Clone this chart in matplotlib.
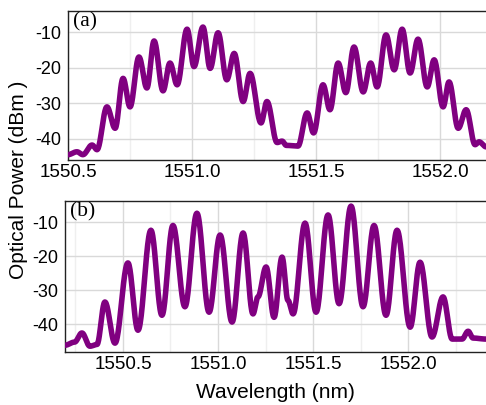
import numpy as np
import matplotlib.pyplot as plt
from matplotlib.ticker import MultipleLocator

# panel (a): turning points of the trace (wavelength nm, power dBm)
wl_a = [1550.500, 1550.536, 1550.560, 1550.597, 1550.617, 1550.657, 1550.690, 1550.722,
        1550.750, 1550.786, 1550.818, 1550.847, 1550.883, 1550.911, 1550.940, 1550.980,
        1551.008, 1551.044, 1551.073, 1551.105, 1551.140, 1551.170, 1551.206, 1551.234,
        1551.278, 1551.302, 1551.343, 1551.363, 1551.380, 1551.427, 1551.464, 1551.490,
        1551.528, 1551.556, 1551.589, 1551.620, 1551.653, 1551.690, 1551.720, 1551.746,
        1551.782, 1551.815, 1551.847, 1551.879, 1551.911, 1551.948, 1551.976, 1552.012,
        1552.036, 1552.073, 1552.105, 1552.141, 1552.157, 1552.185]
p_a = [-44.4, -43.6, -44.4, -41.7, -43.0, -31.0, -37.0, -23.0,
       -31.0, -17.0, -25.7, -12.5, -26.5, -18.7, -24.8, -9.2,
       -19.7, -8.6, -20.2, -10.2, -23.4, -16.0, -29.5, -21.6,
       -35.5, -29.5, -41.0, -40.6, -41.8, -42.0, -32.7, -38.3,
       -24.8, -31.8, -18.7, -27.0, -14.2, -26.8, -18.7, -25.4,
       -10.8, -20.6, -9.2, -21.5, -12.0, -25.4, -17.8, -31.0,
       -24.0, -37.0, -31.8, -41.6, -40.8, -42.2]

# panel (b)
wl_b = [1550.195, 1550.245, 1550.284, 1550.326, 1550.363, 1550.405, 1550.458, 1550.526,
        1550.579, 1550.647, 1550.705, 1550.763, 1550.826, 1550.889, 1550.953, 1551.011,
        1551.074, 1551.132, 1551.184, 1551.210, 1551.253, 1551.295, 1551.337, 1551.368,
        1551.395, 1551.458, 1551.516, 1551.579, 1551.637, 1551.700, 1551.763, 1551.821,
        1551.884, 1551.942, 1552.011, 1552.063, 1552.126, 1552.184, 1552.232, 1552.284,
        1552.316, 1552.342, 1552.410]
p_b = [-46.2, -45.3, -42.6, -46.5, -46.0, -33.5, -45.6, -22.0,
       -41.8, -12.4, -37.4, -11.0, -34.9, -7.4, -36.5, -13.8,
       -39.4, -13.2, -37.0, -32.0, -23.2, -38.0, -20.3, -33.0,
       -37.0, -10.3, -36.5, -7.9, -34.0, -5.3, -34.9, -11.0,
       -37.4, -12.4, -40.9, -21.8, -43.8, -32.0, -44.4, -44.4,
       -42.1, -44.1, -44.4]

yticks = [-40, -30, -20, -10]
xticks_a = [1550.5, 1551.0, 1551.5, 1552.0]
xticks_b = [1550.5, 1551.0, 1551.5, 1552.0]


def trace(xs, ys, n=24):
    # join the turning points with half-cosine segments so the peaks stay round
    t = np.linspace(0, 1, n, endpoint=False)
    s = (1 - np.cos(np.pi * t)) / 2
    xx, yy = [], []
    for i in range(len(xs) - 1):
        xx.append(xs[i] + (xs[i + 1] - xs[i]) * t)
        yy.append(ys[i] + (ys[i + 1] - ys[i]) * s)
    xx.append([xs[-1]])
    yy.append([ys[-1]])
    return np.concatenate(xx), np.concatenate(yy)


fig = plt.figure(figsize=(4.86, 4.05), dpi=100)
ax1 = fig.add_axes([68 / 486, 1 - 160 / 405, 1 - 68 / 486, 149 / 405])
ax2 = fig.add_axes([65 / 486, 1 - 352 / 405, 1 - 65 / 486, 151 / 405])

panels = [(ax1, wl_a, p_a, xticks_a, (1550.5, 1552.185), (-45.9, -4.1), '(a)'),
          (ax2, wl_b, p_b, xticks_b, (1550.195, 1552.41), (-48.2, -3.8), '(b)')]

for ax, wl, p, xt, xl, yl, tag in panels:
    x, y = trace(wl, p)
    ax.plot(x, y, color='#800080', lw=4.0, solid_capstyle='round',
            solid_joinstyle='round', zorder=3)
    ax.set_xlim(*xl)
    ax.set_ylim(*yl)
    ax.set_xticks(xt)
    ax.set_xticklabels([f'{v:.1f}' for v in xt])
    ax.set_yticks(yticks)
    ax.set_yticklabels([str(v) for v in yticks])
    ax.xaxis.set_minor_locator(MultipleLocator(0.25))
    ax.grid(True, which='major', color='#d9d9d9', lw=1.0)
    ax.grid(True, which='minor', axis='x', color='#efefef', lw=1.0)
    ax.set_axisbelow(True)
    ax.tick_params(which='both', length=0)
    ax.tick_params(axis='x', pad=3)
    ax.tick_params(axis='y', pad=5)
    for lab in ax.get_xticklabels():
        lab.set_fontfamily('Liberation Sans')
        lab.set_fontsize(13.5)
    for lab in ax.get_yticklabels():
        lab.set_fontfamily('Liberation Sans')
        lab.set_fontsize(13)
    ax.spines['right'].set_visible(False)
    for side in ['left', 'top', 'bottom']:
        ax.spines[side].set_color('#222222')
        ax.spines[side].set_linewidth(1.0)
    ax.text(0.013, 0.995, tag, transform=ax.transAxes, ha='left', va='top',
            fontfamily='Liberation Serif', fontsize=15.5)

fig.text(0.039, 0.555, 'Optical Power (dBm )', rotation=90, ha='center', va='center',
         fontfamily='Liberation Sans', fontsize=15)
fig.text(0.566, 0.032, 'Wavelength (nm)', ha='center', va='center',
         fontfamily='Liberation Sans', fontsize=15)

fig.savefig('out.png', dpi=100)
